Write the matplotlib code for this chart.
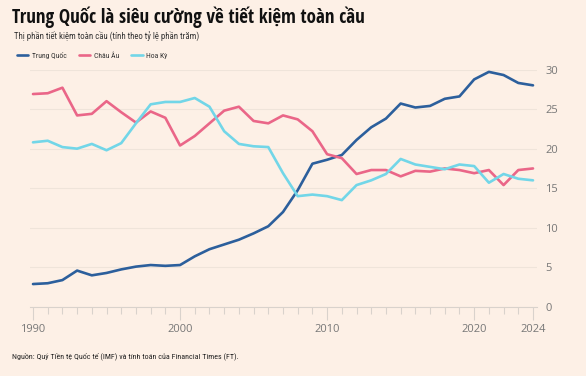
import matplotlib
matplotlib.use("Agg")
import matplotlib.pyplot as plt
from matplotlib import font_manager as fm

years = list(range(1990, 2025))
china = [2.9, 3.0, 3.4, 4.6, 4.0, 4.3, 4.75, 5.1, 5.3, 5.2, 5.3, 6.4, 7.3, 7.9, 8.5, 9.3, 10.2, 12.0,
         14.75, 18.1, 18.6, 19.2, 21.1, 22.7, 23.8, 25.7, 25.2, 25.4, 26.3, 26.6, 28.75, 29.7, 29.3, 28.3, 28.0]
europe = [26.9, 27.0, 27.7, 24.2, 24.4, 26.0, 24.6, 23.3, 24.7, 23.9, 20.4, 21.6, 23.2, 24.8, 25.3, 23.5,
          23.2, 24.2, 23.7, 22.2, 19.3, 18.8, 16.8, 17.3, 17.3, 16.5, 17.2, 17.1, 17.5, 17.3, 16.9, 17.3,
          15.4, 17.3, 17.5]
usa = [20.8, 21.0, 20.2, 20.0, 20.6, 19.8, 20.7, 23.2, 25.6, 25.9, 25.9, 26.4, 25.3, 22.2, 20.6, 20.3,
       20.2, 16.9, 14.0, 14.2, 14.0, 13.5, 15.4, 16.0, 16.8, 18.7, 18.0, 17.7, 17.4, 18.0, 17.8, 15.7,
       16.8, 16.2, 16.0]
series_names = ["Trung Quốc", "Châu Âu", "Hoa Kỳ"]
colors = ["#2c5f9c", "#ea6688", "#72d6e8"]
y_ticks = [0, 5, 10, 15, 20, 25, 30]
x_ticks = [1990, 2000, 2010, 2020, 2024]

bg = "#fdf0e6"
W, H = 586, 376
plt.rcParams['font.family'] = ['Open Sans', 'DejaVu Sans']
COND = ['Open Sans Condensed', 'Open Sans', 'DejaVu Sans']
# regular/light condensed face for small texts, if one is installed
light_ok = any(f.name == 'Open Sans Condensed' and f.weight in (300, 'light', 400, 'normal', 'regular')
               for f in fm.fontManager.ttflist)
SMALL = COND if light_ok else ['Roboto Condensed', 'Open Sans', 'DejaVu Sans']
SMALL_W = 'light' if light_ok else 'normal'

fig = plt.figure(figsize=(W / 100, H / 100), dpi=100, facecolor=bg)

left, right = 30 / W, 537 / W
bottom, top = 1 - 307 / H, 1 - 69.5 / H
ax = fig.add_axes([left, bottom, right - left, top - bottom], facecolor=bg)

for vals, name, c in zip([china, europe, usa], series_names, colors):
    ax.plot(years, vals, color=c, lw=1.9, label=name, solid_capstyle='round', solid_joinstyle='round', clip_on=False)

px_per_year = (533 - 33) / 34
ax.set_xlim(1990 - 3 / px_per_year, 2024 + 4 / px_per_year)
ax.set_ylim(0, 30)

for s in ["top", "left", "right"]:
    ax.spines[s].set_visible(False)
ax.spines["bottom"].set_color("#d9d2cc")
ax.spines["bottom"].set_linewidth(0.8)

ax.yaxis.tick_right()
ax.set_yticks(y_ticks)
ax.set_yticklabels([str(v) for v in y_ticks])
ax.tick_params(axis='y', length=0, pad=6, labelsize=8, labelcolor="#777777")
ax.grid(axis='y', color="#efe4da", lw=0.8)
ax.set_axisbelow(True)

ax.set_xticks(x_ticks)
ax.set_xticklabels([str(v) for v in x_ticks])
ax.set_xticks(years, minor=True)
ax.tick_params(axis='x', which='major', length=9, color="#d9d2cc", width=0.8, labelsize=8, labelcolor="#777777", pad=3)
ax.tick_params(axis='x', which='minor', length=5, color="#d9d2cc", width=0.8)

fig.text(12 / W, 1 - 17 / H, "Trung Quốc là siêu cường về tiết kiệm toàn cầu", fontsize=13.7,
         fontweight='bold', family=COND, color="#111111", va='center', ha='left')
fig.text(14 / W, 1 - 37 / H, "Thị phần tiết kiệm toàn cầu (tính theo tỷ lệ phần trăm)", fontsize=6.3,
         family=SMALL, fontweight=SMALL_W, color="#333333", va='center', ha='left')
fig.legend(loc='center left', bbox_to_anchor=(10 / W, 1 - 55.5 / H), ncol=3, frameon=False,
           prop={'family': SMALL, 'size': 5.5, 'weight': SMALL_W}, handlelength=1.5, handletextpad=0.45,
           columnspacing=1.6, labelcolor="#333333")
fig.text(12 / W, 1 - 357 / H, "Nguồn: Quỹ Tiền tệ Quốc tế (IMF) và tính toán của Financial Times (FT).",
         fontsize=5.8, family=SMALL, fontweight=SMALL_W, color="#222222", va='center', ha='left')

fig.savefig("out.png", dpi=100, facecolor=bg)
